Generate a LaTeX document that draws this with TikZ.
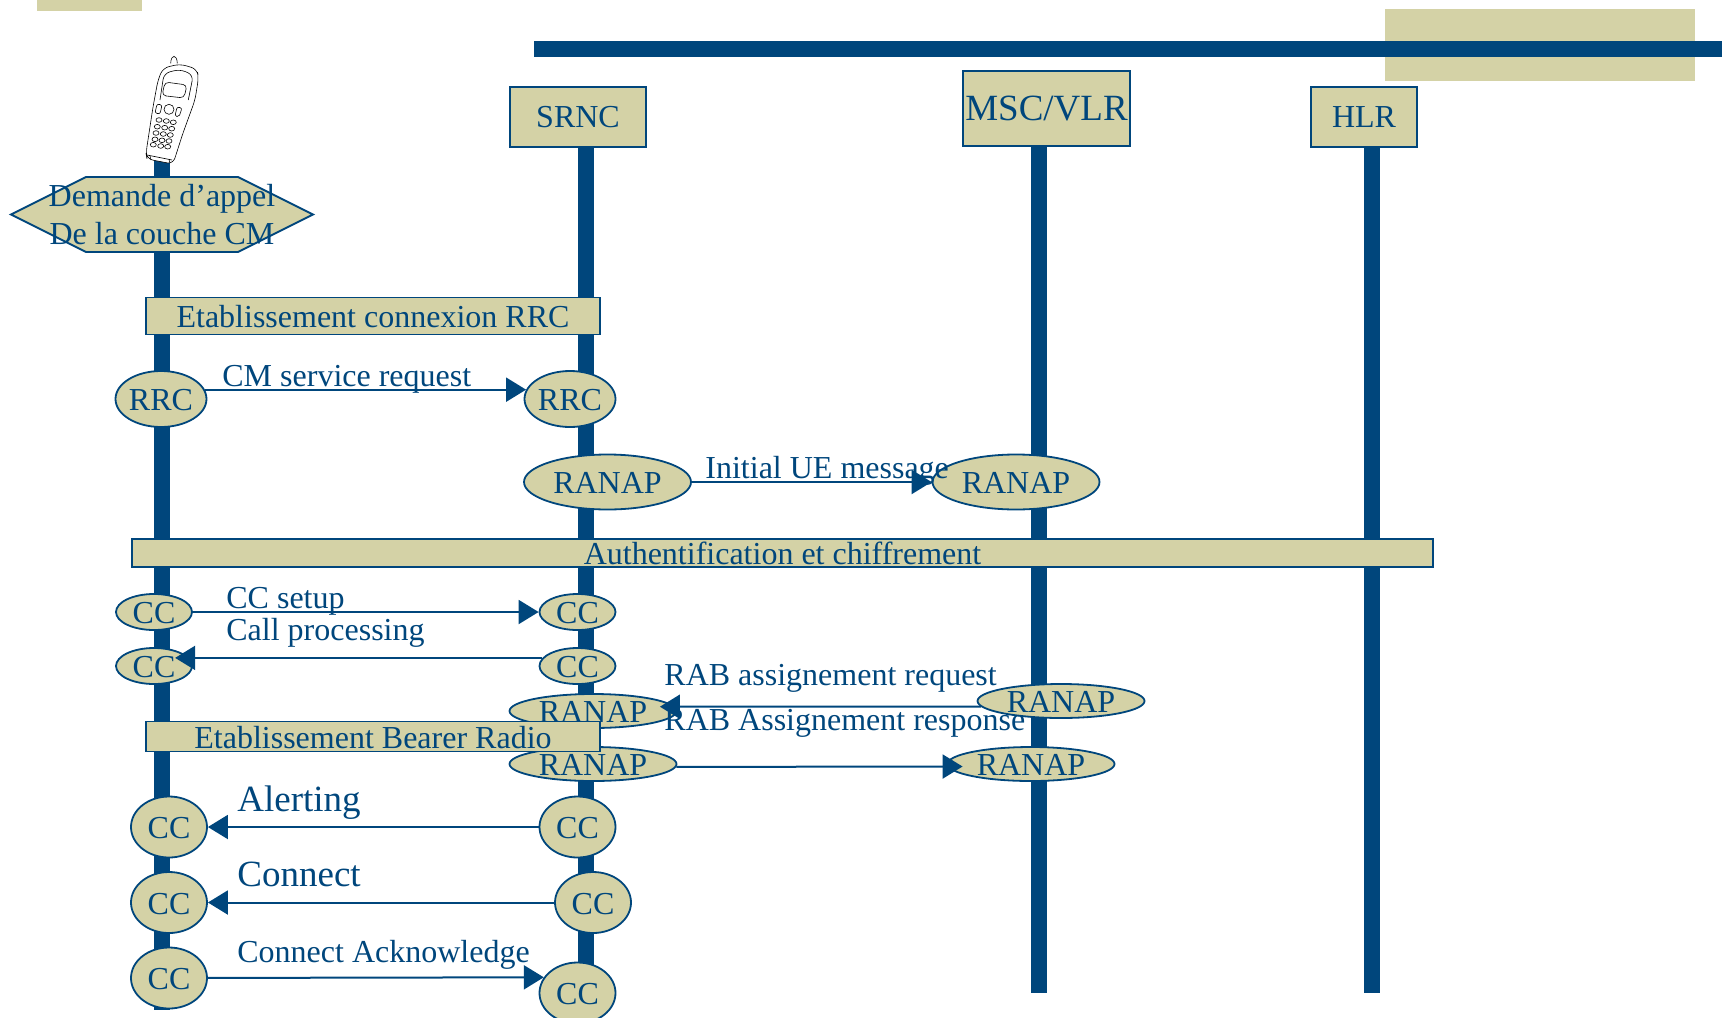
\documentclass[tikz,border=0pt]{standalone}
\usepackage{fontspec}
\setmainfont{Liberation Serif}
\usetikzlibrary{arrows.meta,shapes.geometric}

\definecolor{navy}{RGB}{0,70,124}
\definecolor{sand}{RGB}{212,210,166}

\tikzstyle{title} = [rectangle, minimum width=68pt, minimum height=30pt, inner sep=0pt, text centered, draw=navy, fill=sand, line width=0.9pt]
\tikzstyle{band} = [rectangle, minimum height=14pt, inner sep=0pt, text height=11.8pt, text depth=0pt, text centered, draw=navy, fill=sand, line width=0.9pt]
\tikzstyle{oval} = [ellipse, inner sep=0pt, text height=11.8pt, text depth=0pt, text centered, draw=navy, fill=sand, line width=0.9pt]
\tikzstyle{small} = [oval, minimum width=38pt, minimum height=18pt]
\tikzstyle{large} = [oval, minimum width=38pt, minimum height=30.5pt]
\tikzstyle{ranap} = [oval, minimum width=83.5pt, minimum height=17pt]
\tikzstyle{msg} = [anchor=base west, inner sep=0pt]
\tikzstyle{lifeline} = [navy, line width=8pt]
\tikzstyle{arrow} = [navy, line width=1pt, ->, >={Triangle[length=10pt,width=12pt]}]
\tikzstyle{phone} = [black, line width=0.3pt]

\begin{document}
\begin{tikzpicture}[x=0.5pt, y=-0.5pt, node distance=50pt, text=navy, font=\fontsize{16}{19}\selectfont]
\useasboundingbox (0,0) rectangle (1722,1017);

	% decoration at the top
	\fill [sand] (37,0) rectangle (142,11);
	\fill [sand] (1385,9) rectangle (1695,81);
	\fill [navy] (534,41) rectangle (1722,57);

	% life lines
	\coordinate (uetop) at (162,160);
	\coordinate (uebot) at (162,1010);
	\coordinate (srnctop) at (586,147);
	\coordinate (srncbot) at (586,1010);
	\coordinate (msctop) at (1039,146);
	\coordinate (mscbot) at (1039,993);
	\coordinate (hlrtop) at (1371.5,146);
	\coordinate (hlrbot) at (1371.5,993);
	\draw [lifeline] (uetop) -- (uebot);
	\draw [lifeline] (srnctop) -- (srncbot);
	\draw [lifeline] (msctop) -- (mscbot);
	\draw [lifeline] (hlrtop) -- (hlrbot);

	% mobile
	\draw [phone] (170.7,63.3) .. controls (171,54) and (177,54) .. (177.3,63.3);
	\draw [phone, fill=white, rounded corners=3pt] (163,68) -- (180,64) -- (197,69) -- (198.5,78) -- (195,100) -- (183,133) -- (173,164) -- (147,159) -- (146,153) -- (153,107) -- (158,80) -- cycle;
	\draw [phone, rounded corners=3pt] (160,100) -- (164,73.3) -- (180,69.3) -- (193.3,75) -- (188.3,100);
	\draw [phone, rounded corners=2pt] (165,82) -- (187,85) -- (184,98) -- (162,95.5) -- cycle;
	\draw [phone] (169,109.3) circle (5);
	\draw [phone, rounded corners=1pt] (157,104) -- (162,105) -- (160,114) -- (155,113) -- cycle;
	\draw [phone, rounded corners=1pt] (177,107) -- (182,108) -- (179,117) -- (175,116) -- cycle;
	\draw [phone] (159,120) ellipse (3 and 2.3) (166.3,121) ellipse (3 and 2.3) (173.3,122.3) ellipse (3 and 2.3);
	\draw [phone] (157.3,126.7) ellipse (3 and 2.3) (164.7,127.7) ellipse (3 and 2.3) (171.7,128.7) ellipse (3 and 2.3);
	\draw [phone] (156,133) ellipse (3 and 2.3) (163.3,134) ellipse (3 and 2.3) (170.3,135) ellipse (3 and 2.3);
	\draw [phone] (155,139.3) ellipse (3 and 2.3) (162,140.3) ellipse (3 and 2.3) (169,141) ellipse (3 and 2.3);
	\draw [phone] (153.3,144.7) ellipse (3 and 2.3) (160.7,146) ellipse (3 and 2.3) (167.7,146.7) ellipse (3 and 2.3);
	\draw [phone] (147,155) -- (172,160) (150,156) -- (151,160) (169,159.5) -- (170,163);

	% network elements
	\node (srnc) [title] at (578,117) {SRNC};
	\node (msc) [title, minimum width=83.5pt, minimum height=37.5pt, font=\fontsize{18.5}{22}\selectfont] at (1046.5,108.5) {MSC/VLR};
	\node (hlr) [title, minimum width=53pt] at (1364,117) {HLR};

	% call request
	\draw [navy, fill=sand, line width=0.9pt] (11,214.5) -- (86,177) -- (238,177) -- (313,214.5) -- (238,252) -- (86,252) -- cycle;
	\node (appel) [align=center, inner sep=0pt] at (162,214.5) {Demande d'appel\\De la couche CM};

	% protocol entities
	\node (rrca) [large, minimum width=45.5pt, minimum height=28pt] at (161,399) {RRC};
	\node (rrcb) [large, minimum width=45.5pt, minimum height=28pt, right of= rrca, xshift=154.5pt] {RRC};
	\node (ranapa) [ranap, minimum height=27.5pt] at (607.5,482) {RANAP};
	\node (ranapb) [ranap, minimum height=27.5pt, right of= ranapa, xshift=154.25pt] {RANAP};
	\node (cca) [small] at (154,612) {CC};
	\node (ccb) [small, right of= cca, xshift=161.75pt] {CC};
	\node (ccc) [small] at (154,666) {CC};
	\node (ccd) [small, right of= ccc, xshift=161.75pt] {CC};
	\node (ranapc) [ranap] at (593,711) {RANAP};
	\node (ranapd) [ranap] at (1061,701) {RANAP};
	\node (ranape) [ranap] at (593,764) {RANAP};
	\node (ranapf) [ranap, right of= ranape, xshift=169pt] {RANAP};
	\node (cce) [large] at (169,827) {CC};
	\node (ccf) [large, right of= cce, xshift=154.25pt] {CC};
	\node (ccg) [large] at (169,902.5) {CC};
	\node (cch) [large, right of= ccg, xshift=162pt] {CC};
	\node (cci) [large] at (169,978) {CC};
	\node (ccj) [large, right of= cci, xshift=154.25pt, yshift=-7.5pt] {CC};

	% procedures
	\node (etabrrc) [band, minimum width=227pt, minimum height=18.5pt] at (373,316) {Etablissement connexion RRC};
	\node (auth) [band, minimum width=650.5pt] at (782.5,553) {Authentification et chiffrement};
	\node (etabradio) [band, minimum width=227pt, minimum height=15pt] at (373,736.5) {Etablissement Bearer Radio};

	% messages
	\draw [arrow] (rrca.12) -- (rrcb.168);
	\draw [arrow] (ranapa) -- (ranapb);
	\draw [arrow] (cca) -- (ccb);
	\draw [arrow] (ccd.167) -- ([xshift=-7pt]ccc.13);
	\draw [arrow] (ranapd.184) -- ([xshift=-7.5pt]ranapc.3.2);
	\draw [arrow] (ranape.358) -- ([xshift=8pt,yshift=-1.25pt]ranapf.west);
	\draw [arrow] (ccf) -- (cce);
	\draw [arrow] (cch) -- (ccg);
	\draw [arrow] (cci) -- (ccj.155.6);

	\node (lblcm) [msg] at (222,386) {CM service request};
	\node (lblue) [msg] at (705,478) {Initial UE message};
	\node (lblsetup) [msg] at (226,608) {CC setup};
	\node (lblproc) [msg] at (226,640.5) {Call processing};
	\node (lblreq) [msg] at (664,685.5) {RAB assignement request};
	\node (lblresp) [msg] at (664,730.5) {RAB Assignement response};
	\node (lblalert) [msg, font=\fontsize{18.5}{22}\selectfont] at (237,811) {Alerting};
	\node (lblconn) [msg, font=\fontsize{18.5}{22}\selectfont] at (237,886) {Connect};
	\node (lblack) [msg] at (237,962) {Connect Acknowledge};
\end{tikzpicture}
\end{document}
